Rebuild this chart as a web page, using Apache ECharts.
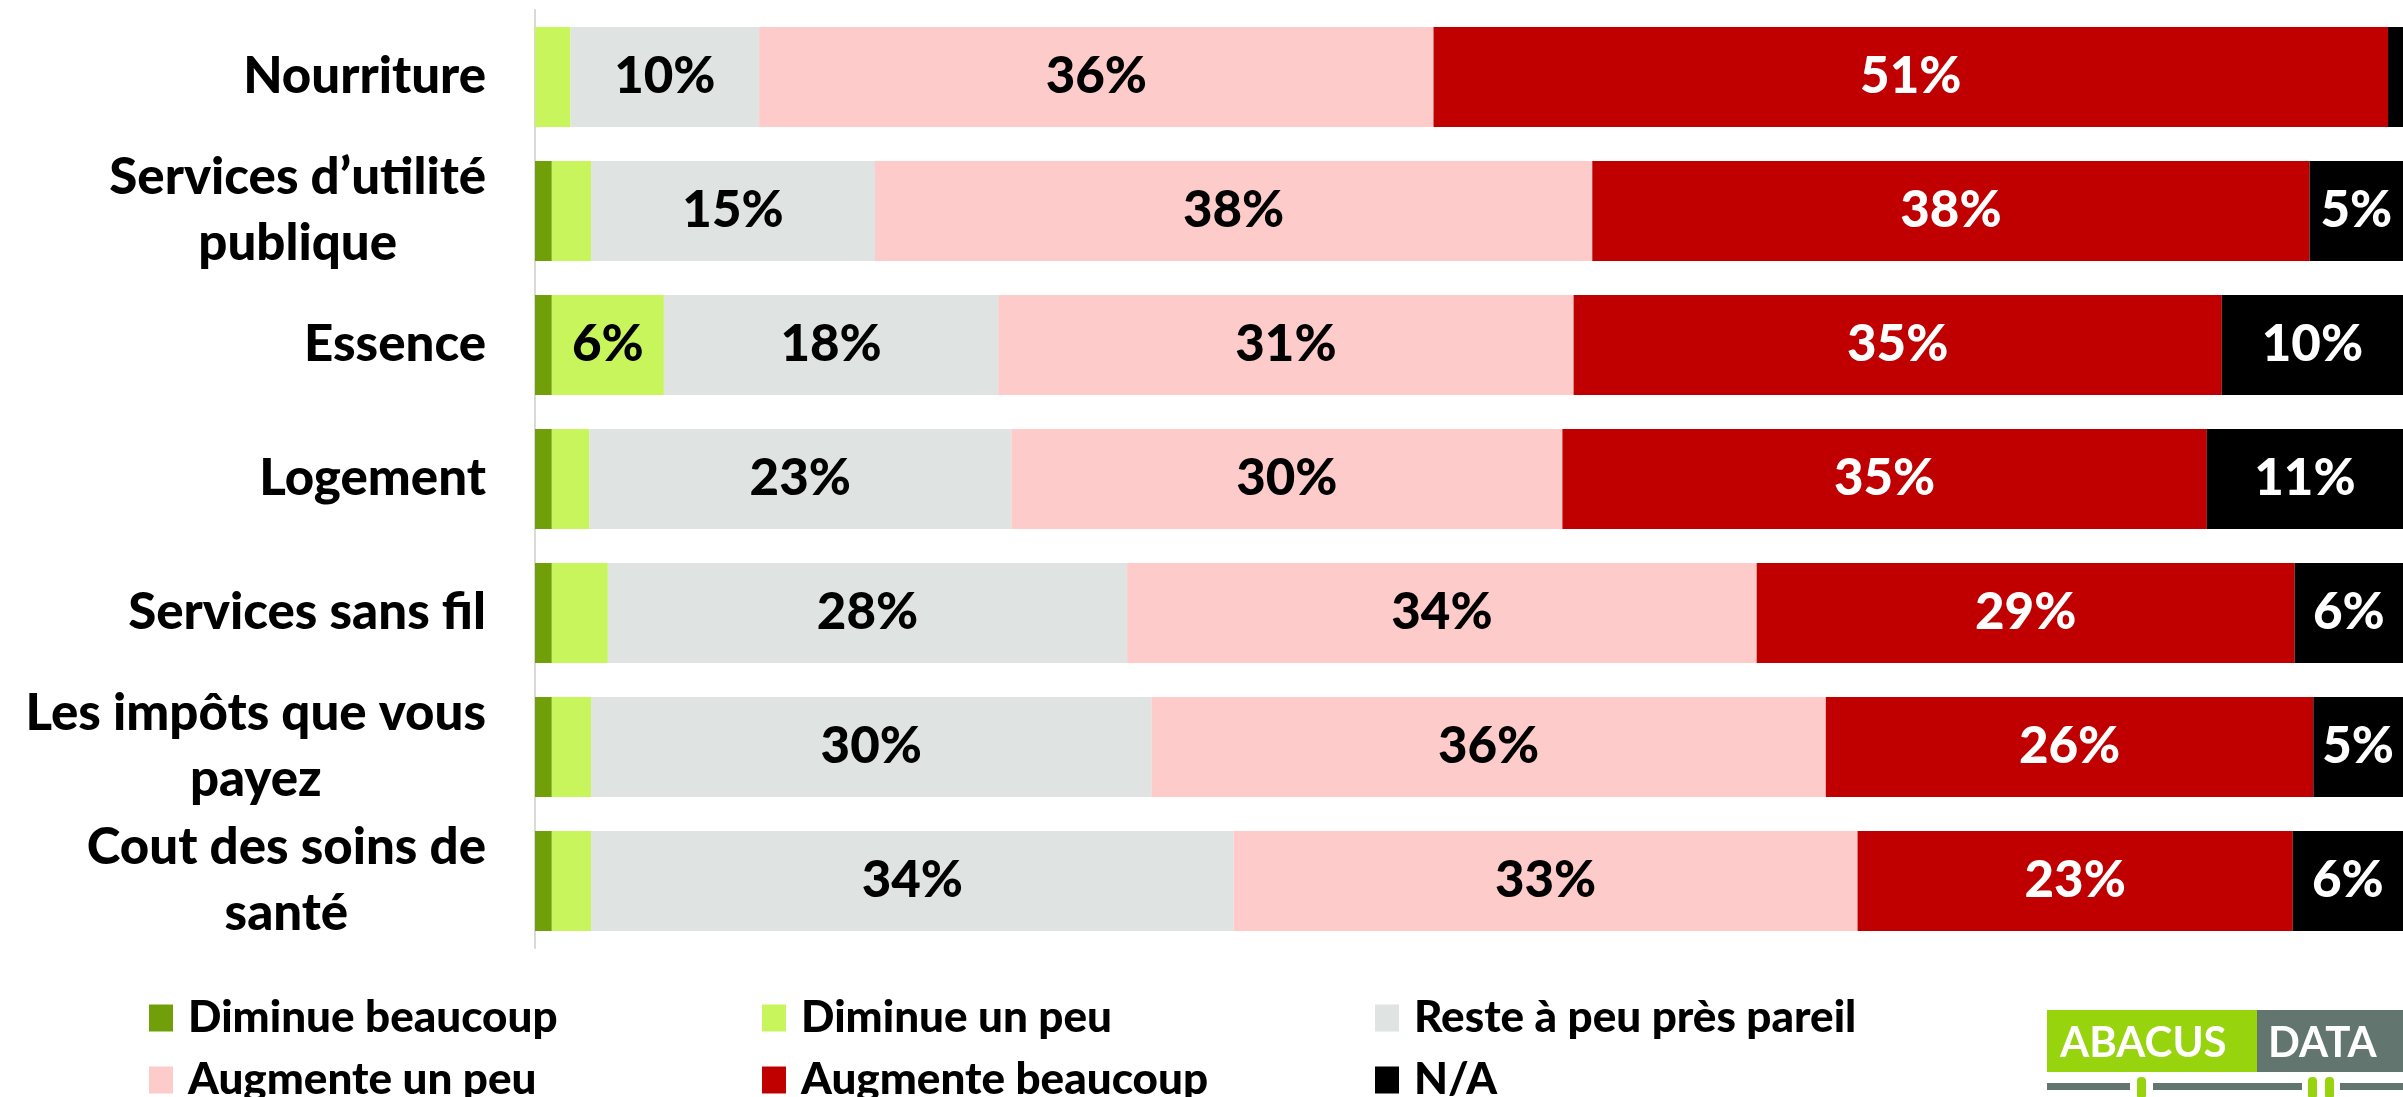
<!DOCTYPE html>
<html>
<head>
<meta charset="utf-8">
<style>
  html, body { margin: 0; padding: 0; background: #fff; }
  #chart { width: 2403px; height: 1097px; }
</style>
<script src="https://cdn.jsdelivr.net/npm/echarts@6/dist/echarts.min.js"></script>
</head>
<body>
<div id="chart"></div>
<script>
// catégories, de haut en bas
const categories = [
  'Nourriture',
  'Services d’utilité\npublique',
  'Essence',
  'Logement',
  'Services sans fil',
  'Les impôts que vous\npayez',
  'Cout des soins de\nsanté'
]
const diminueBeaucoup = [0, 0.9, 0.9, 0.9, 0.9, 0.9, 0.9]
const diminueUnPeu = [1.9, 2.1, 6.0, 2.0, 3.0, 2.1, 2.1]
const restePareil = [10.1, 15.2, 17.9, 22.6, 27.8, 30.0, 34.4]
const augmenteUnPeu = [36.1, 38.4, 30.8, 29.5, 33.7, 36.1, 33.4]
const augmenteBeaucoup = [51.1, 38.4, 34.7, 34.5, 28.8, 26.1, 23.3]
const nonApplicable = [0.8, 5.0, 9.7, 10.5, 5.8, 4.8, 5.9]

const seriesNames = ['Diminue beaucoup', 'Diminue un peu', 'Reste à peu près pareil',
  'Augmente un peu', 'Augmente beaucoup', 'N/A']
const seriesData = [diminueBeaucoup, diminueUnPeu, restePareil, augmenteUnPeu, augmenteBeaucoup, nonApplicable]
const colors = ['#719f0a', '#c7f55b', '#dfe3e2', '#fdcbc9', '#c00000', '#000000']
const labelColors = ['#000', '#000', '#000', '#000', '#fff', '#fff']

const FONT = 'Lato, "Liberation Sans", sans-serif'

const chart = echarts.init(document.getElementById('chart'))

const series = seriesNames.map(function (name, i) {
  return {
    name: name,
    type: 'bar',
    stack: 'total',
    barWidth: 100,
    itemStyle: { color: colors[i] },
    label: {
      show: true,
      position: 'inside',
      color: labelColors[i],
      fontFamily: FONT,
      fontWeight: 900,
      fontSize: 51,
      formatter: function (p) {
        const v = Math.round(p.value)
        return v >= 4 ? v + '%' : ''
      }
    },
    emphasis: { disabled: true },
    data: seriesData[i]
  }
})

// légende en 3 colonnes x 2 lignes, une légende par entrée
const legendLeft = [149, 762, 1375, 149, 762, 1375]
const legendTop = [996, 996, 996, 1058, 1058, 1058]
const legends = seriesNames.map(function (name, k) {
  return {
    left: legendLeft[k],
    top: legendTop[k],
    padding: 0,
    itemWidth: 24,
    itemHeight: 27,
    icon: 'rect',
    textStyle: {
      fontFamily: FONT,
      fontWeight: 900,
      fontSize: 44,
      lineHeight: 44,
      color: '#000',
      padding: [0, 0, 0, 10]
    },
    data: [name]
  }
})

chart.setOption({
  animation: false,
  grid: { left: 535, right: 0, top: 10, bottom: 149 },
  xAxis: {
    type: 'value',
    min: 0,
    max: 100,
    show: false
  },
  yAxis: {
    type: 'category',
    inverse: true,
    data: categories,
    axisLine: { show: true, lineStyle: { color: '#d9d9d9', width: 2 } },
    axisTick: { show: false },
    axisLabel: {
      margin: 49,
      align: 'right',
      formatter: function (v) {
        return v.split('\n').map(function (l) { return '{c|' + l + '}' }).join('\n')
      },
      rich: {
        c: {
          align: 'center',
          fontFamily: FONT,
          fontWeight: 900,
          fontSize: 51,
          lineHeight: 66,
          color: '#000'
        }
      }
    }
  },
  legend: legends,
  graphic: [
    { type: 'rect', left: 2047, top: 1010, shape: { width: 210, height: 62 }, style: { fill: '#97d40d' } },
    { type: 'rect', left: 2257, top: 1010, shape: { width: 146, height: 62 }, style: { fill: '#62766f' } },
    { type: 'text', left: 2060, top: 1022, style: { text: 'ABACUS', fill: '#fff', font: 'bold 42px ' + FONT } },
    { type: 'text', left: 2268, top: 1022, style: { text: 'DATA', fill: '#fff', font: 'bold 42px ' + FONT } },
    { type: 'rect', left: 2047, top: 1083, shape: { width: 83, height: 7 }, style: { fill: '#62766f' } },
    { type: 'rect', left: 2153, top: 1083, shape: { width: 149, height: 7 }, style: { fill: '#62766f' } },
    { type: 'rect', left: 2340, top: 1083, shape: { width: 63, height: 7 }, style: { fill: '#62766f' } },
    { type: 'rect', left: 2137, top: 1077, shape: { width: 9, height: 22, r: 4 }, style: { fill: '#97d40d' } },
    { type: 'rect', left: 2308, top: 1077, shape: { width: 9, height: 22, r: 4 }, style: { fill: '#97d40d' } },
    { type: 'rect', left: 2325, top: 1077, shape: { width: 9, height: 22, r: 4 }, style: { fill: '#97d40d' } }
  ],
  series: series
})
</script>
</body>
</html>
